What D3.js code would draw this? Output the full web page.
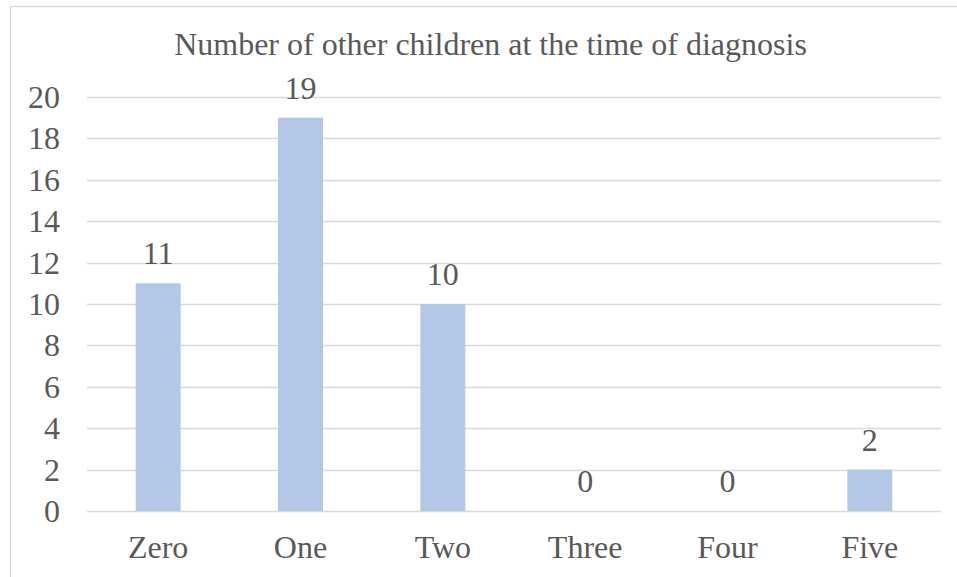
<!DOCTYPE html>
<html>
<head>
<meta charset="utf-8">
<script src="https://cdn.jsdelivr.net/npm/d3@7/dist/d3.min.js"></script>
<style>
  html, body { margin: 0; padding: 0; background: #fff; }
  svg { display: block; }
</style>
</head>
<body>
<svg id="chart" width="957" height="577"></svg>
<script>
// Number of other children per family at diagnosis
const categories = ["Zero", "One", "Two", "Three", "Four", "Five"];
const counts = [11, 19, 10, 0, 0, 2];
const yTicks = [0, 2, 4, 6, 8, 10, 12, 14, 16, 18, 20];
const title = "Number of other children at the time of diagnosis";

const FONT = "'Liberation Serif', 'Times New Roman', serif";
const INK = "#595959";
const SIZE = "32px";

const svg = d3.select("#chart");
const W = 957, H = 577;
const plot = { left: 87, right: 941, top: 97, bottom: 511 };

// chart frame
svg.append("rect")
  .attr("x", 10.5).attr("y", 6.5)
  .attr("width", W + 20).attr("height", H + 20)
  .attr("fill", "none").attr("stroke", "#D9D9D9").attr("stroke-width", 1.3);

const x = d3.scaleBand()
  .domain(categories)
  .range([plot.left, plot.right])
  .paddingInner(0.684).paddingOuter(0.342);

const y = d3.scaleLinear()
  .domain([0, 20])
  .range([plot.bottom, plot.top]);

// horizontal gridlines
svg.append("g")
  .selectAll("line")
  .data(yTicks)
  .join("line")
  .attr("x1", plot.left).attr("x2", plot.right)
  .attr("y1", d => Math.round(y(d)) + 0.5).attr("y2", d => Math.round(y(d)) + 0.5)
  .attr("stroke", "#D9D9D9").attr("stroke-width", 1.6);

// y axis labels
const yAxis = d3.axisLeft(y).tickValues(yTicks).tickSize(0).tickPadding(0);
const yg = svg.append("g").attr("transform", `translate(${plot.left - 27},0)`).call(yAxis);
yg.attr("font-family", null).attr("font-size", null);
yg.select(".domain").remove();
yg.selectAll("text")
  .attr("dy", "0.33em")
  .style("font-family", FONT).style("font-size", SIZE).style("fill", INK);

// bars
svg.append("g")
  .selectAll("rect")
  .data(counts)
  .join("rect")
  .attr("x", (d, i) => x(categories[i]))
  .attr("width", x.bandwidth())
  .attr("y", d => y(d))
  .attr("height", d => y(0) - y(d))
  .attr("fill", "#B4C7E7");

// value labels
svg.append("g")
  .selectAll("text")
  .data(counts)
  .join("text")
  .attr("x", (d, i) => x(categories[i]) + x.bandwidth() / 2)
  .attr("y", d => y(d) - 19)
  .attr("text-anchor", "middle")
  .style("font-family", FONT).style("font-size", SIZE).style("fill", INK)
  .text(d => d);

// category labels
const xAxis = d3.axisBottom(x).tickSize(0).tickPadding(0);
const xg = svg.append("g").attr("transform", `translate(0,${plot.bottom})`).call(xAxis);
xg.attr("font-family", null).attr("font-size", null);
xg.select(".domain").remove();
xg.selectAll("text")
  .attr("dy", null).attr("y", 47)
  .style("font-family", FONT).style("font-size", SIZE).style("fill", INK);

// title
svg.append("text")
  .attr("x", (175 + 806) / 2)
  .attr("y", 55)
  .attr("text-anchor", "middle")
  .style("font-family", FONT).style("font-size", SIZE).style("fill", INK)
  .text(title);
</script>
</body>
</html>
